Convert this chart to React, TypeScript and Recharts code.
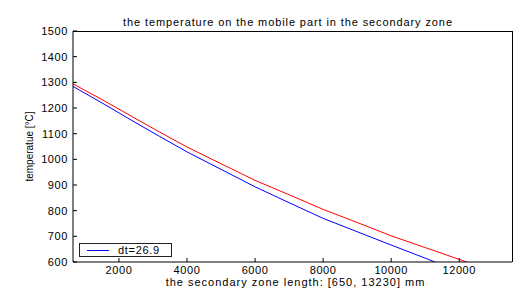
import { LineChart, Line, XAxis, YAxis, Legend } from 'recharts';

// positions along the secondary zone [mm]
const zonePos = [650, 1500, 2500, 3200, 4000, 5000, 6000, 7000, 8000, 9000, 10000, 11000, 11290, 12000, 12220];
// red curve (no legend entry)
const tempRed = [1294, 1233, 1158, 1106, 1048, 983, 918, 862, 805, 754, 702, 656, 643, 610, 600];
// blue curve, dt=26.9
const tempBlue = [1284, 1220, 1142, 1089, 1029, 961, 893, 831, 770, 718, 666, 615, 600, null, null];

const xTicks = [2000, 4000, 6000, 8000, 10000, 12000];
const yTicks = [600, 700, 800, 900, 1000, 1100, 1200, 1300, 1400, 1500];

const data = zonePos.map((x, i) => ({ x, red: tempRed[i], blue: tempBlue[i] }));

const FONT = '"Liberation Sans", Arial, sans-serif';
const AXIS = '#000';
const X_DOMAIN = [650, 13550];
const Y_DOMAIN = [600, 1500];

// chart box
const W = 532;
const H = 294;
const M = { top: 30, right: 19, left: 0, bottom: 0 };
const Y_AXIS_W = 73;
const X_AXIS_H = 32;

function LegendBox(props: any) {
    const items = (props.payload || []).filter((it: any) => it.type !== 'none' && it.dataKey !== 'red');
    return (
        <div
            style={{
                border: '1px solid #222',
                background: '#fff',
                height: 12,
                display: 'flex',
                alignItems: 'center',
                fontFamily: FONT,
                fontSize: 11,
                letterSpacing: 0.7,
                color: '#000',
            }}
        >
            {items.map((it: any) => (
                <div key={it.value} style={{ display: 'flex', alignItems: 'center' }}>
                    <div style={{ width: 22, height: 1, background: it.color, marginLeft: 7, marginRight: 9 }} />
                    <span>{it.value}</span>
                </div>
            ))}
        </div>
    );
}

export default function App() {
    return (
        <div style={{ position: 'relative', width: W, height: H, background: '#fff', fontFamily: FONT, overflow: 'hidden' }}>
            <style>{`body{margin:0}`}</style>
            <div
                style={{
                    position: 'absolute',
                    top: 16,
                    left: 44,
                    right: 0,
                    textAlign: 'center',
                    fontSize: 11,
                    letterSpacing: 0.9,
                    color: '#000',
                }}
            >
                the temperature on the mobile part in the secondary zone
            </div>
            <LineChart width={W} height={H} data={data} margin={M} style={{ fontFamily: FONT }}>
                <XAxis
                    dataKey="x"
                    type="number"
                    domain={X_DOMAIN}
                    ticks={xTicks}
                    allowDataOverflow
                    height={X_AXIS_H}
                    stroke={AXIS}
                    tickSize={-4}
                    tickMargin={8}
                    tick={{ fill: '#000', fontSize: 11, letterSpacing: 0.6 }}
                    label={{
                        value: 'the secondary zone length: [650, 13230] mm',
                        position: 'insideBottom',
                        offset: 8,
                        dx: 3,
                        fill: '#000',
                        fontSize: 11,
                        style: { letterSpacing: 1 },
                    }}
                />
                {/* top axis: inward ticks only, frame edge drawn by overlay */}
                <XAxis
                    xAxisId="top"
                    dataKey="x"
                    type="number"
                    orientation="top"
                    domain={X_DOMAIN}
                    ticks={xTicks}
                    allowDataOverflow
                    height={1}
                    stroke={AXIS}
                    axisLine={false}
                    tickSize={-4}
                    tick={false}
                />
                <YAxis
                    type="number"
                    domain={Y_DOMAIN}
                    ticks={yTicks}
                    allowDataOverflow
                    width={Y_AXIS_W}
                    stroke={AXIS}
                    tickSize={-4}
                    tickMargin={9}
                    tick={{ fill: '#000', fontSize: 11, letterSpacing: 0.6 }}
                    label={{
                        value: 'temperatue [°C]',
                        angle: -90,
                        position: 'insideLeft',
                        offset: 29,
                        fill: '#000',
                        fontSize: 10,
                        style: { textAnchor: 'middle' },
                    }}
                />
                <YAxis
                    yAxisId="right"
                    type="number"
                    orientation="right"
                    domain={Y_DOMAIN}
                    ticks={yTicks}
                    allowDataOverflow
                    width={1}
                    stroke={AXIS}
                    axisLine={false}
                    tickSize={-4}
                    tick={false}
                />
                <Legend
                    layout="horizontal"
                    verticalAlign="middle"
                    align="center"
                    content={<LegendBox />}
                    wrapperStyle={{ position: 'absolute', left: 79, top: 243, width: 93, height: 14 }}
                />
                <Line
                    type="linear"
                    dataKey="red"
                    xAxisId="top"
                    yAxisId="right"
                    stroke="#ff0000"
                    strokeWidth={1}
                    dot={false}
                    legendType="none"
                    isAnimationActive={false}
                />
                <Line
                    type="linear"
                    dataKey="blue"
                    name="dt=26.9"
                    stroke="#0000ff"
                    strokeWidth={1}
                    dot={false}
                    isAnimationActive={false}
                />
            </LineChart>
            {/* top and right edges of the axes box */}
            <div
                style={{
                    position: 'absolute',
                    left: M.left + Y_AXIS_W,
                    top: M.top + 1,
                    width: W - M.left - M.right - Y_AXIS_W,
                    height: H - M.top - 1 - X_AXIS_H,
                    borderTop: '1px solid #000',
                    borderRight: '1px solid #000',
                    boxSizing: 'border-box',
                    pointerEvents: 'none',
                }}
            />
        </div>
    );
}
